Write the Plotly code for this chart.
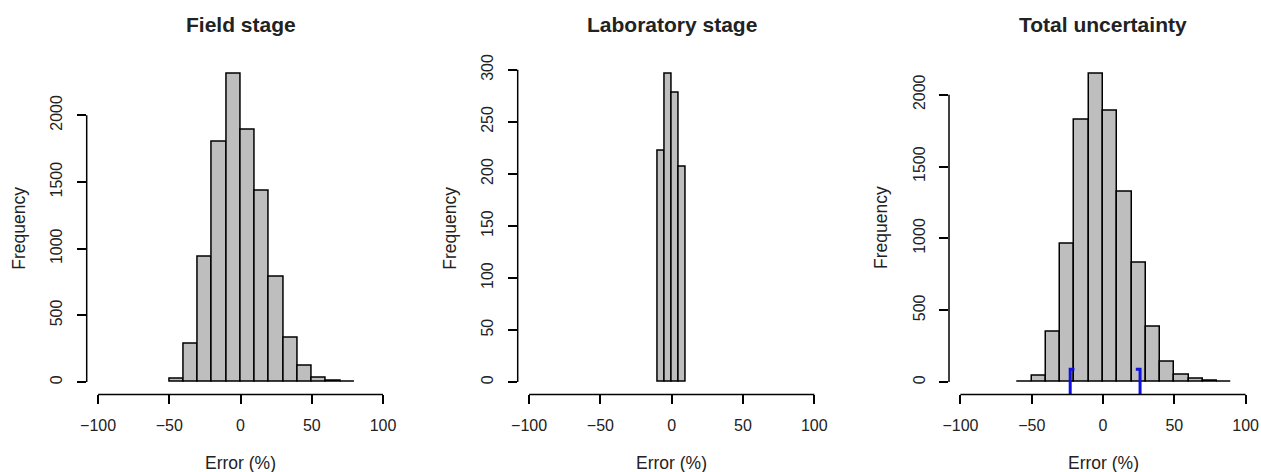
import plotly.graph_objects as go

# ---- data ----
field_edges = [-50, -40, -30, -20, -10, 0, 10, 20, 30, 40, 50, 60, 70, 80]
field_counts = [25, 290, 940, 1805, 2310, 1895, 1435, 790, 330, 120, 35, 12, 3]

lab_edges = [-10, -5, 0, 5, 10]
lab_counts = [222, 296, 278, 207]

total_edges = [-60, -50, -40, -30, -20, -10, 0, 10, 20, 30, 40, 50, 60, 70, 80, 90]
total_counts = [2, 42, 349, 961, 1827, 2144, 1892, 1322, 829, 382, 142, 54, 21, 9, 2]

ci_bounds = [-23, 26]      # blue interval markers on the total panel
ci_top = 90

panel_titles = ["Field stage", "Laboratory stage", "Total uncertainty"]
x_ticks = [-100, -50, 0, 50, 100]
field_yticks = [0, 500, 1000, 1500, 2000]
lab_yticks = [0, 50, 100, 150, 200, 250, 300]
total_yticks = [0, 500, 1000, 1500, 2000]
x_label = "Error (%)"
y_label = "Frequency"

# ---- layout ----
W, H = 1261, 472
FONT = "Liberation Sans, Arial, sans-serif"
TXT = "#222222"
x_domains = [(86.7 / W, 394.4 / W), (517.7 / W, 825.7 / W), (949 / W, 1257 / W)]
y_domain = (1 - 394.4 / H, 1 - 61.7 / H)

fig = go.Figure()

panels = [
    (field_edges, field_counts, field_yticks),
    (lab_edges, lab_counts, lab_yticks),
    (total_edges, total_counts, total_yticks),
]

for i, (edges, counts, yticks) in enumerate(panels):
    n = i + 1
    xa = "x" if n == 1 else f"x{n}"
    ya = "y" if n == 1 else f"y{n}"
    centers = [(edges[k] + edges[k + 1]) / 2 for k in range(len(counts))]
    widths = [edges[k + 1] - edges[k] for k in range(len(counts))]
    fig.add_trace(go.Bar(
        x=centers, y=counts, width=widths,
        marker=dict(color="#BEBEBE", line=dict(color="black", width=1.5)),
        xaxis=xa, yaxis=ya, showlegend=False, hoverinfo="x+y",
    ))
    ymax = max(counts)
    xkey = "xaxis" if n == 1 else f"xaxis{n}"
    ykey = "yaxis" if n == 1 else f"yaxis{n}"
    fig.update_layout(**{
        xkey: dict(domain=list(x_domains[i]), anchor=ya, range=[-108, 108],
                   automargin=False,
                   tickvals=x_ticks, ticks="outside", ticklen=9, tickwidth=1.5,
                   tickcolor="black", showline=False, showgrid=False, zeroline=False,
                   tickfont=dict(family=FONT, size=16, color=TXT),
                   ticklabelstandoff=7),
        ykey: dict(domain=list(y_domain), anchor=xa,
                   range=[-0.04 * ymax, 1.04 * ymax], automargin=False,
                   tickvals=yticks, ticks="outside", ticklen=9, tickwidth=1.5,
                   tickcolor="black", showline=False, showgrid=False, zeroline=False,
                   tickangle=-90,
                   tickfont=dict(family=FONT, size=16, color=TXT),
                   ticklabelstandoff=8),
    })
    # R-style axis lines spanning the tick range only
    fig.add_shape(type="line", xref=xa, yref=f"{ya} domain",
                  x0=x_ticks[0], x1=x_ticks[-1], y0=0, y1=0,
                  line=dict(color="black", width=1.5))
    fig.add_shape(type="line", xref=f"{xa} domain", yref=ya,
                  x0=0, x1=0, y0=yticks[0], y1=yticks[-1],
                  line=dict(color="black", width=1.5))
    # titles and axis labels
    xc = (x_domains[i][0] + x_domains[i][1]) / 2
    fig.add_annotation(text=f"<b>{panel_titles[i]}</b>", xref="paper", yref="paper",
                       x=xc, y=1 - 25 / H, xanchor="center", yanchor="middle",
                       showarrow=False, font=dict(family=FONT, size=21, color=TXT))
    fig.add_annotation(text=x_label, xref="paper", yref="paper",
                       x=xc, y=1 - 463 / H, xanchor="center", yanchor="middle",
                       showarrow=False, font=dict(family=FONT, size=17.5, color=TXT))
    fig.add_annotation(text=y_label, xref="paper", yref="paper",
                       x=x_domains[i][0] - 68 / W, y=(y_domain[0] + y_domain[1]) / 2,
                       xanchor="center", yanchor="middle", textangle=-90,
                       showarrow=False, font=dict(family=FONT, size=17.5, color=TXT))

# blue interval brackets on the total panel
lo, hi = ci_bounds
fig.add_trace(go.Scatter(x=[lo + 3, lo, lo], y=[ci_top, ci_top, -200], mode="lines",
                         line=dict(color="#1010E0", width=3), xaxis="x3", yaxis="y3",
                         showlegend=False, hoverinfo="skip"))
fig.add_trace(go.Scatter(x=[hi - 3, hi, hi], y=[ci_top, ci_top, -200], mode="lines",
                         line=dict(color="#1010E0", width=3), xaxis="x3", yaxis="y3",
                         showlegend=False, hoverinfo="skip"))

fig.update_layout(width=W, height=H, margin=dict(l=0, r=0, t=0, b=0, autoexpand=False),
                  paper_bgcolor="white", plot_bgcolor="white", bargap=0,
                  showlegend=False)

fig.write_html("out.html", config={"displayModeBar": False},
               post_script="document.body.style.margin='0';")
